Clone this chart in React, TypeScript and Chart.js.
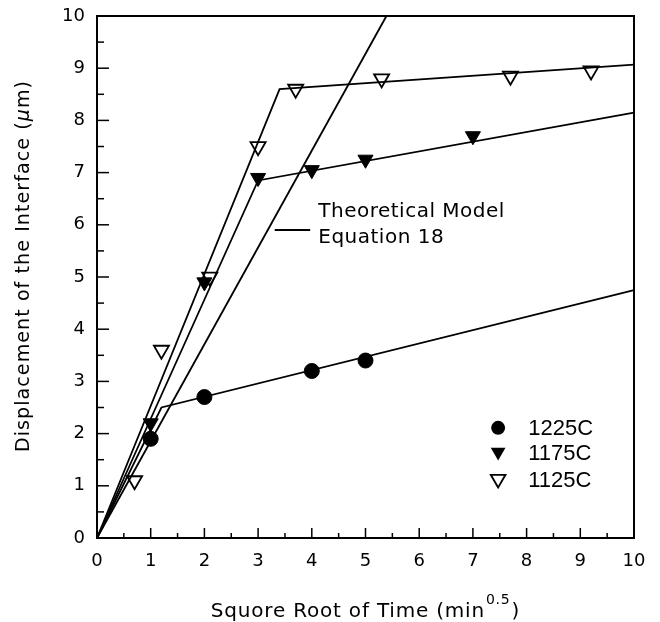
import React, { useEffect, useRef } from "react";
import { Chart, registerables } from "chart.js";

Chart.register(...registerables);

// ---- data ----
const xTickValues = [0, 1, 2, 3, 4, 5, 6, 7, 8, 9, 10];
const yTickValues = [0, 1, 2, 3, 4, 5, 6, 7, 8, 9, 10];

const seriesLabels = ["1225C", "1175C", "1125C"];

const pts1225X = [1, 2, 4, 5];
const pts1225Y = [1.9, 2.7, 3.2, 3.4];

const pts1175X = [1, 2, 3, 4, 5, 7];
const pts1175Y = [2.2, 4.9, 6.9, 7.05, 7.25, 7.7];

const pts1125X = [0.7, 1.2, 2.1, 3.0, 3.7, 5.3, 7.7, 9.2];
const pts1125Y = [1.1, 3.6, 5.0, 7.5, 8.6, 8.8, 8.85, 8.95];

const fit1225X = [0, 1.2, 10];
const fit1225Y = [0, 2.5, 4.75];

const fit1175X = [0, 3.0, 10];
const fit1175Y = [0, 6.85, 8.15];

const fit1125X = [0, 3.4, 10];
const fit1125Y = [0, 8.6, 9.07];

const theoryX = [0, 5.39];
const theoryY = [0, 10];

const annotationLines = ["Theoretical Model", "Equation 18"];
const xTitle = "Squore Root of Time (min";
const xTitleSup = "0.5";
const yTitleParts = ["Displacement of the Interface (", "μ", "m)"];

const toXY = (xs: number[], ys: number[]) => xs.map((x, i) => ({ x, y: ys[i] }));

const TXT = "'DejaVu Sans', sans-serif";

function drawMarker(ctx: CanvasRenderingContext2D, kind: number, x: number, y: number) {
  ctx.save();
  ctx.lineWidth = 1.8;
  ctx.strokeStyle = "#000";
  ctx.fillStyle = "#000";
  if (kind === 0) {
    ctx.beginPath();
    ctx.arc(x, y, 7, 0, Math.PI * 2);
    ctx.fill();
  } else {
    const r = 8.5;
    ctx.beginPath();
    ctx.moveTo(x, y + r);
    ctx.lineTo(x - r * Math.sin(Math.PI / 3), y - r / 2);
    ctx.lineTo(x + r * Math.sin(Math.PI / 3), y - r / 2);
    ctx.closePath();
    if (kind === 1) ctx.fill();
    else ctx.stroke();
  }
  ctx.restore();
}

const decorPlugin = {
  id: "decor",
  afterDraw(chart: any) {
    const ctx: CanvasRenderingContext2D = chart.ctx;
    const { left, right, top, bottom } = chart.chartArea;
    const xs = chart.scales.x;
    const ys = chart.scales.y;
    ctx.save();
    // frame
    ctx.strokeStyle = "#000";
    ctx.lineWidth = 2;
    ctx.strokeRect(left, top, right - left, bottom - top);
    // inward ticks
    ctx.lineWidth = 1.5;
    for (let v = 0.5; v < 10; v += 0.5) {
      const major = Math.abs(v - Math.round(v)) < 1e-6;
      const px = xs.getPixelForValue(v);
      ctx.beginPath();
      ctx.moveTo(px, bottom);
      ctx.lineTo(px, bottom - (major ? 10 : 5));
      ctx.stroke();
      const py = ys.getPixelForValue(v);
      ctx.beginPath();
      ctx.moveTo(left, py);
      ctx.lineTo(left + (major ? 12 : 7), py);
      ctx.stroke();
    }

    ctx.fillStyle = "#000";
    (ctx as any).letterSpacing = "0.8px";
    // x title
    ctx.font = `20px ${TXT}`;
    ctx.textBaseline = "alphabetic";
    ctx.textAlign = "left";
    const w1 = ctx.measureText(xTitle).width;
    ctx.font = `14px ${TXT}`;
    const w2 = ctx.measureText(xTitleSup).width;
    ctx.font = `20px ${TXT}`;
    const w3 = ctx.measureText(")").width;
    const total = w1 + w2 + w3 + 2;
    let cx = (left + right) / 2 - total / 2;
    const base = 617;
    ctx.fillText(xTitle, cx, base);
    cx += w1 + 1;
    ctx.font = `14px ${TXT}`;
    ctx.fillText(xTitleSup, cx, base - 13);
    cx += w2 + 1;
    ctx.font = `20px ${TXT}`;
    ctx.fillText(")", cx, base);

    // y title
    ctx.save();
    (ctx as any).letterSpacing = "1.1px";
    ctx.translate(28.5, (top + bottom) / 2 - 11);
    ctx.rotate(-Math.PI / 2);
    const fonts = [`19px ${TXT}`, `italic 19px ${TXT}`, `19px ${TXT}`];
    const widths = yTitleParts.map((p, i) => {
      ctx.font = fonts[i];
      return ctx.measureText(p).width;
    });
    const tw = widths.reduce((a, b) => a + b, 0);
    let yx = -tw / 2;
    yTitleParts.forEach((p, i) => {
      ctx.font = fonts[i];
      ctx.fillText(p, yx, 0);
      yx += widths[i];
    });
    ctx.restore();

    // annotation
    ctx.lineWidth = 1.8;
    const ly = ys.getPixelForValue(5.9);
    ctx.beginPath();
    ctx.moveTo(xs.getPixelForValue(3.31), ly);
    ctx.lineTo(xs.getPixelForValue(3.97), ly);
    ctx.stroke();
    (ctx as any).letterSpacing = "0.5px";
    ctx.font = `20px ${TXT}`;
    ctx.textBaseline = "middle";
    ctx.fillText(annotationLines[0], xs.getPixelForValue(4.12), ys.getPixelForValue(6.245));
    ctx.fillText(annotationLines[1], xs.getPixelForValue(4.12), ys.getPixelForValue(5.75));

    // legend
    (ctx as any).letterSpacing = "0px";
    ctx.font = `22px 'Liberation Sans', Arial, sans-serif`;
    const legendRows = [2.11, 1.63, 1.11];
    seriesLabels.forEach((lab, i) => {
      const my = ys.getPixelForValue(legendRows[i]);
      drawMarker(ctx, i, xs.getPixelForValue(7.47), my + (i === 0 ? 0 : -1));
      ctx.fillText(lab, xs.getPixelForValue(8.03), my + 1);
    });
    ctx.restore();
  },
};

export default function App() {
  const ref = useRef<HTMLCanvasElement | null>(null);
  useEffect(() => {
    if (!ref.current) return;
    const lineDs = (xs: number[], ys: number[]) => ({
      type: "scatter" as const,
      data: toXY(xs, ys),
      showLine: true,
      borderColor: "#000",
      borderWidth: 1.8,
      pointRadius: 0,
      fill: false,
    });
    const chart = new Chart(ref.current, {
      type: "scatter",
      data: {
        datasets: [
          lineDs(theoryX, theoryY),
          lineDs(fit1225X, fit1225Y),
          lineDs(fit1175X, fit1175Y),
          lineDs(fit1125X, fit1125Y),
          {
            label: seriesLabels[0],
            data: toXY(pts1225X, pts1225Y),
            pointStyle: "circle",
            pointRadius: 7.5,
            backgroundColor: "#000",
            borderColor: "#000",
            borderWidth: 1,
          },
          {
            label: seriesLabels[1],
            data: toXY(pts1175X, pts1175Y),
            pointStyle: "triangle",
            rotation: 180,
            pointRadius: 8.7,
            backgroundColor: "#000",
            borderColor: "#000",
            borderWidth: 1,
          },
          {
            label: seriesLabels[2],
            data: toXY(pts1125X, pts1125Y),
            pointStyle: "triangle",
            rotation: 180,
            pointRadius: 8.7,
            backgroundColor: "rgba(255,255,255,0)",
            borderColor: "#000",
            borderWidth: 1.8,
          },
        ] as any,
      },
      options: {
        animation: false,
        responsive: false,
        devicePixelRatio: 1,
        clip: false as any,
        layout: { padding: { left: 0, right: 26, top: 16, bottom: 0 } },
        plugins: { legend: { display: false }, tooltip: { enabled: false } },
        scales: {
          x: {
            type: "linear",
            min: 0,
            max: 10,
            afterFit: (s: any) => {
              s.height = 84;
              s.paddingLeft = 0;
              s.paddingRight = 0;
            },
            afterBuildTicks: (s: any) => {
              s.ticks = xTickValues.map((v) => ({ value: v }));
            },
            grid: { display: false, drawTicks: false },
            border: { display: false },
            ticks: {
              color: "#000",
              font: { family: "DejaVu Sans", size: 18 },
              padding: 13,
              autoSkip: false,
              maxRotation: 0,
            },
          },
          y: {
            type: "linear",
            min: 0,
            max: 10,
            afterFit: (s: any) => {
              s.width = 97;
              s.paddingTop = 0;
              s.paddingBottom = 0;
            },
            afterBuildTicks: (s: any) => {
              s.ticks = yTickValues.map((v) => ({ value: v }));
            },
            grid: { display: false, drawTicks: false },
            border: { display: false },
            ticks: {
              color: "#000",
              font: { family: "DejaVu Sans", size: 18 },
              padding: 12,
              autoSkip: false,
            },
          },
        },
      },
      plugins: [decorPlugin],
    });
    return () => chart.destroy();
  }, []);
  return (
    <div style={{ position: "absolute", left: 0, top: 0, width: 660, height: 622, background: "#fff" }}>
      <canvas ref={ref} width={660} height={622} style={{ display: "block" }} />
    </div>
  );
}
